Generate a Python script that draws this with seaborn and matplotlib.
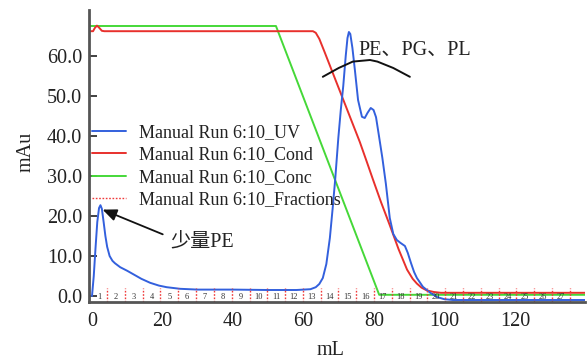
import matplotlib
matplotlib.use("Agg")
import matplotlib.pyplot as plt
from matplotlib.lines import Line2D
import numpy as np
import pandas as pd
import seaborn as sns

# ---------------- data ----------------
uv_x = [0, 0.5, 1.0, 1.5, 2.0, 2.4, 2.8, 3.3, 3.8, 4.3, 5.0, 5.8, 6.5, 8, 10, 12, 14,
        16.5, 19, 21.2, 25, 30, 40, 50, 58, 62, 63.5, 64.5, 65.5, 66.5, 67.5, 68.3,
        69, 69.9, 70.6, 71.3, 72, 72.5, 72.9, 73.3, 73.9, 74.6, 75.5, 76.6, 77.4,
        78.2, 79.1, 79.9, 80.6, 81.4, 82.4, 83.4, 84.5, 85.5, 86.5, 87.5, 88.8,
        89.6, 90.5, 91.4, 92.2, 93.9, 96, 98, 100, 102.4, 139.9]
uv_y = [0.0, 5, 12, 18.5, 22, 22.7, 21.8, 18.5, 15, 12.3, 10, 8.8, 8.2, 7.2, 6.3, 5.3, 4.3,
        3.3, 2.6, 2.2, 1.8, 1.6, 1.6, 1.5, 1.5, 1.7, 2.2, 3.0, 4.5, 8, 14.5, 22,
        29, 39.5, 46.5, 52.5, 60, 64.5, 66, 65.5, 62, 56.5, 49, 44.8, 44.5,
        45.8, 47, 46.5, 44.7, 40.2, 34.5, 28, 19.5, 15.5, 14, 13.3, 12.5,
        10.8, 8.3, 6, 4.5, 2.3, 0.8, -0.3, -0.8, -1.0, -1.0]

cond_x = [-0.85, 0.3, 0.8, 1.4, 2.0, 2.8, 3.5, 20, 40, 62.7, 63.5, 64.5, 66, 68, 70, 72,
          74, 76, 78, 79.7, 82, 84.5, 87, 89.4, 91, 92.2, 93.5, 95, 97, 99, 139.9]
cond_y = [66.2, 66.2, 67.0, 67.6, 67.1, 66.3, 66.2, 66.2, 66.2, 66.2, 65.8, 64.3, 61, 56.5, 52, 47.5,
          43, 38.5, 33.5, 29.2, 23.5, 17.7, 11.7, 6.6, 4.3, 3.1, 2.1, 1.4, 1.0, 0.8, 0.8]

conc_x = [-0.85, 52.2, 81.5, 139.9]
conc_y = [67.5, 67.5, 0.3, 0.3]

frac_edges = [4.3, 9.3, 14.4, 19.4, 24.5, 29.5, 34.6, 39.6, 44.7, 49.7, 54.8, 59.8,
              64.9, 69.9, 75.0, 80.0, 85.1, 90.1, 95.2, 100.2, 105.3, 110.3, 115.4,
              120.4, 125.5, 130.5, 135.6]
frac_labels = [str(i) for i in range(1, 28)]

brace_x = [65.5, 70, 74, 78.9, 81, 85.5, 90.2]
brace_y = [54.8, 57.0, 58.6, 59.0, 58.6, 57.0, 54.8]

series_names = ["Manual Run 6:10_UV", "Manual Run 6:10_Cond",
                "Manual Run 6:10_Conc", "Manual Run 6:10_Fractions"]
yticks = [0, 10, 20, 30, 40, 50, 60]
xticks = [0, 20, 40, 60, 80, 100, 120]

colors = {"uv": "#3360dd", "cond": "#e8302c", "conc": "#45d838", "frac": "#f03a3a"}

# ---------------- figure ----------------
sns.set_theme(style="white")
plt.rcParams["font.family"] = ["Liberation Serif", "Noto Sans CJK SC", "DejaVu Sans"]

fig = plt.figure(figsize=(5.87, 3.63), dpi=100)
ax = fig.add_axes([89 / 587, 1 - 302 / 363, (585 - 89) / 587, (302 - 10) / 363])

df = pd.concat([
    pd.DataFrame({"mL": uv_x, "mAu": uv_y, "s": "uv"}),
    pd.DataFrame({"mL": cond_x, "mAu": cond_y, "s": "cond"}),
    pd.DataFrame({"mL": conc_x, "mAu": conc_y, "s": "conc"}),
])
for key in ["conc", "cond", "uv"]:
    sub = df[df["s"] == key]
    sns.lineplot(data=sub, x="mL", y="mAu", color=colors[key], lw=1.4,
                 estimator=None, sort=False, legend=False, ax=ax)

xmin, xmax = -0.85, 139.9
ymin, ymax = -1.5, 71.5
ax.set_xlim(xmin, xmax)
ax.set_ylim(ymin, ymax)

# fractions
for e in frac_edges:
    ax.plot([e, e], [ymin, 2.0], color=colors["frac"], lw=1.0, ls=(0, (1.2, 1.2)))
frac_left = [xmin + 0.9] + frac_edges[:-1]
for lab, l, r in zip(frac_labels, frac_left, frac_edges):
    ax.text((l + r) / 2, -0.2, lab, fontsize=6, ha="center", va="center", color="#333333")

# annotations
ax.plot(brace_x, brace_y, color="#111111", lw=1.4)
ax.text(75.5, 61.5, "PE、PG、PL", fontsize=14.5, ha="left", va="center", color="#222222")
ax.annotate("少量PE", xy=(3.0, 21.6), xytext=(22.1, 13.5), fontsize=14.5,
            ha="left", va="center", color="#222222",
            arrowprops=dict(arrowstyle="-|>,head_length=0.7,head_width=0.3", color="#111111",
                            lw=1.3, relpos=(0, 0.75), shrinkA=3, shrinkB=0, mutation_scale=12))

# axes styling
for s in ["top", "right"]:
    ax.spines[s].set_visible(False)
for s in ["left", "bottom"]:
    ax.spines[s].set_color("#555555")
    ax.spines[s].set_linewidth(2.0)
ax.set_yticks(yticks)
ax.set_yticklabels([f"{v:.1f}" for v in yticks])
ax.set_xticks(xticks)
ax.set_xticklabels([str(v) for v in xticks])
ax.tick_params(axis="y", direction="in", length=6, width=1.3, color="#333333",
               labelsize=14.5, pad=5, left=True)
ax.tick_params(axis="x", length=0, labelsize=14.5, pad=7)
for lab in ax.get_xticklabels() + ax.get_yticklabels():
    lab.set_color("#222222")

ax.set_xlabel("mL", fontsize=14.5, color="#222222")
ax.set_ylabel("mAu", fontsize=14.5, color="#222222")
ax.xaxis.set_label_coords(0.486, -0.135)
ax.yaxis.set_label_coords(-0.108, 0.514)

handles = [Line2D([], [], color=colors["uv"], lw=1.4),
           Line2D([], [], color=colors["cond"], lw=1.4),
           Line2D([], [], color=colors["conc"], lw=1.4),
           Line2D([], [], color=colors["frac"], lw=1.0, ls=(0, (1.2, 1.2)))]
leg = ax.legend(handles, series_names, loc="upper left",
                bbox_to_anchor=(92 / 587, 1 - 124 / 363), bbox_transform=fig.transFigure,
                frameon=False, fontsize=13, borderpad=0, borderaxespad=0,
                handlelength=1.9, handletextpad=0.7, labelspacing=0.3)
for t in leg.get_texts():
    t.set_color("#222222")

fig.savefig("out.png", dpi=100)
